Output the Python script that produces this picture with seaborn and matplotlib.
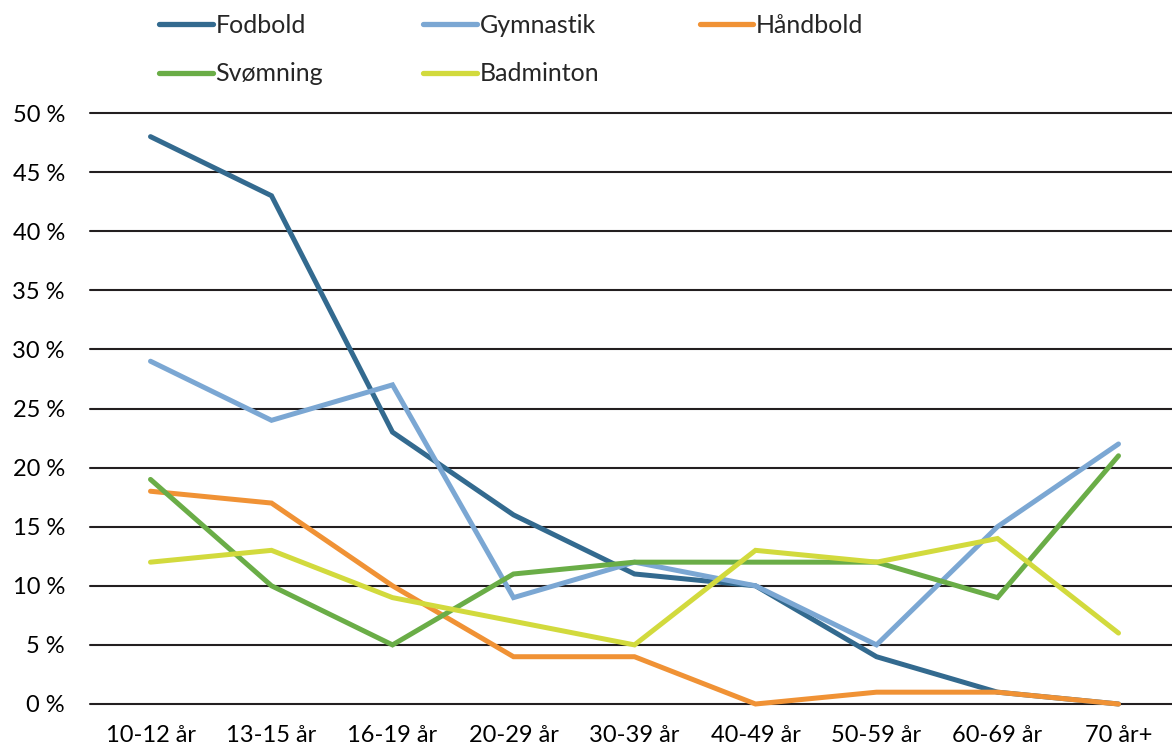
import matplotlib
matplotlib.use("Agg")
import matplotlib.pyplot as plt
import seaborn as sns
import pandas as pd
from matplotlib.ticker import FuncFormatter
from matplotlib.lines import Line2D

categories = ["10-12 år", "13-15 år", "16-19 år", "20-29 år", "30-39 år",
              "40-49 år", "50-59 år", "60-69 år", "70 år+"]
fodbold   = [48, 43, 23, 16, 11, 10, 4, 1, 0]
gymnastik = [29, 24, 27, 9, 12, 10, 5, 15, 22]
haandbold = [18, 17, 10, 4, 4, 0, 1, 1, 0]
svoemning = [19, 10, 5, 11, 12, 12, 12, 9, 21]
badminton = [12, 13, 9, 7, 5, 13, 12, 14, 6]

series = {"Fodbold": fodbold, "Gymnastik": gymnastik, "Håndbold": haandbold,
          "Svømning": svoemning, "Badminton": badminton}
colors = {"Fodbold": "#336A8F", "Gymnastik": "#7BA7D3", "Håndbold": "#F09235",
          "Svømning": "#6AAD47", "Badminton": "#D2DA3D"}

rows = []
for name, vals in series.items():
    for i, (c, v) in enumerate(zip(categories, vals)):
        rows.append({"idx": i, "Alder": c, "Sport": name, "Andel": v})
df = pd.DataFrame(rows)

sns.set_style("white")
plt.rcParams["font.family"] = ["Lato", "DejaVu Sans"]

fig = plt.figure(figsize=(11.72, 7.49), dpi=100)
ax = fig.add_axes([90/1172, 45/749, 1089/1172, 591/749])

for y in range(0, 51, 5):
    ax.axhline(y, color="#231F20", lw=1.5, zorder=1, clip_on=False)

sns.lineplot(data=df, x="idx", y="Andel", hue="Sport", palette=colors,
             hue_order=list(series.keys()), linewidth=3.6, ax=ax,
             legend=False, zorder=3)
for ln in ax.lines:
    ln.set_clip_on(False)
    ln.set_solid_capstyle("round")
    ln.set_solid_joinstyle("miter")

ax.set_xlim(-0.5, 8.5)
ax.set_ylim(0, 50)
ax.set_xticks(range(len(categories)))
ax.set_xticklabels(categories)
ax.set_yticks(range(0, 51, 5))
ax.yaxis.set_major_formatter(FuncFormatter(lambda v, p: f"{int(v)} %"))
ax.tick_params(axis="both", length=0, labelsize=17, colors="#000000")
ax.tick_params(axis="y", pad=18)
ax.tick_params(axis="x", pad=15)
ax.set_xlabel("")
ax.set_ylabel("")
ax.grid(False)
for s in ax.spines.values():
    s.set_visible(False)

order = ["Fodbold", "Svømning", "Gymnastik", "Badminton", "Håndbold"]
handles = [Line2D([0], [0], color=colors[n], lw=3.8, solid_capstyle="round") for n in order]
fig.legend(handles, order, ncol=3, loc="upper left",
           bbox_to_anchor=(145/1172, 1.0), frameon=False, fontsize=18,
           handlelength=2.15, handletextpad=0.12, columnspacing=4.0,
           labelspacing=1.02, borderaxespad=0.15)

fig.savefig("out.png", dpi=100)
